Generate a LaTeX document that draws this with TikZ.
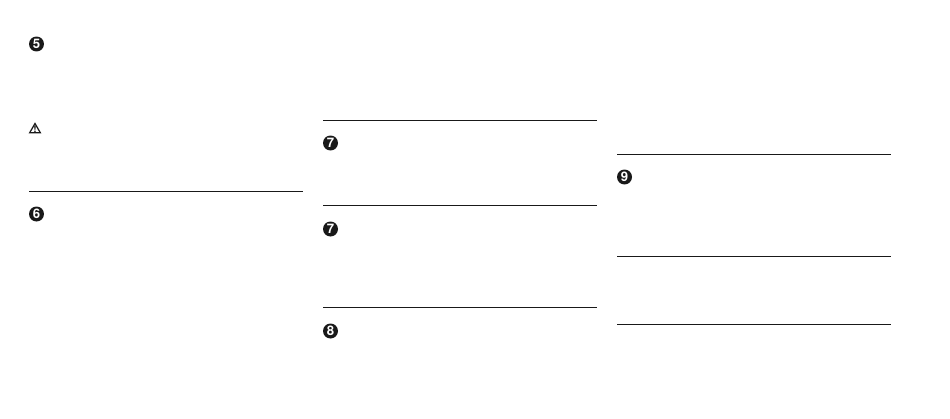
\documentclass[tikz,border=0pt]{standalone}
\usepackage{fontspec}
\setmainfont{TeX Gyre Heros}
\tikzset{
  badge/.style={circle, fill=black!90, text=white, inner sep=0pt, minimum size=0.3cm, font=\fontsize{7.5}{7.5}\selectfont\bfseries},
  rulerline/.style={line width=0.7pt, black!90},
}
\begin{document}
\begin{tikzpicture}[x=0.02cm, y=-0.02cm]
%
    \useasboundingbox (0,0) rectangle (950,419);
%
    % first column
    \node[badge] (nFive) at (36.5,44) {5};
    \draw[line width=0.7pt, line join=miter, black!90] (35,123.5) -- (40.3,132.7) -- (29.7,132.7) -- cycle;
    \node[inner sep=0pt, font=\fontsize{5}{5}\selectfont\bfseries] (warnMark) at (35,129.1) {!};
    \draw[rulerline] (29,191.5) -- (303,191.5);
    \node[badge] (nSix) at (36.5,214) {6};
%
    % second column
    \draw[rulerline] (323,120.5) -- (597,120.5);
    \node[badge] (nSevenA) at (330.5,143) {7};
    \draw[rulerline] (323,205.5) -- (597,205.5);
    \node[badge] (nSevenB) at (330.5,229) {7};
    \draw[rulerline] (323,307.5) -- (597,307.5);
    \node[badge] (nEight) at (330.5,331) {8};
%
    % third column
    \draw[rulerline] (617,154.5) -- (891,154.5);
    \node[badge] (nNine) at (624.5,177) {9};
    \draw[rulerline] (617,256.5) -- (891,256.5);
    \draw[rulerline] (617,324.5) -- (891,324.5);
\end{tikzpicture}
\end{document}
